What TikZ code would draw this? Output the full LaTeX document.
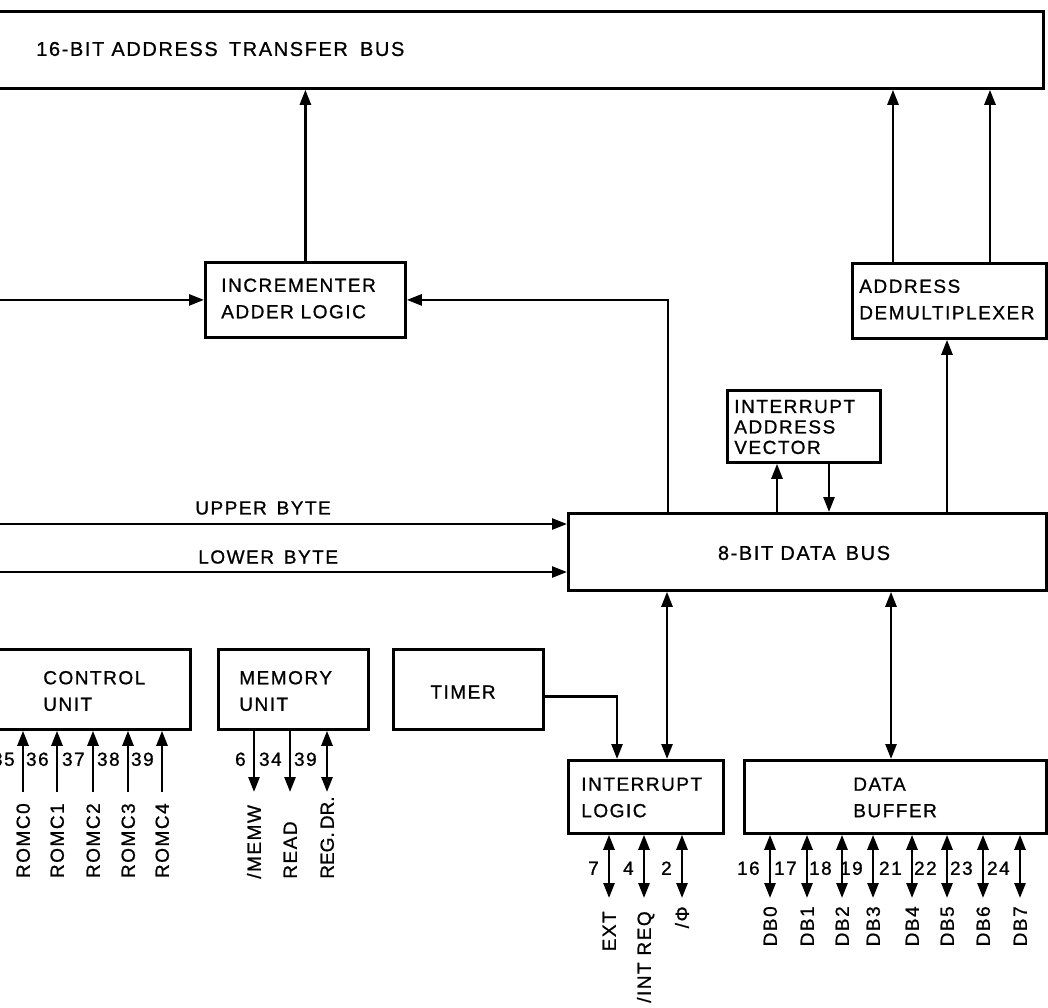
\documentclass[tikz,border=0pt]{standalone}
\usepackage{fontspec}
\setmainfont{Liberation Sans}[LetterSpace=8,FakeBold=0.9]
\usetikzlibrary{arrows.meta}
\begin{document}
\begin{tikzpicture}[x=1pt,y=-1pt,
  line width=2.6pt,
  >={Triangle[length=15pt,width=11pt]},
  box/.style={draw,line width=2.8pt,inner sep=0pt,anchor=north west},
  txt/.style={inner sep=0pt,align=left,font=\fontsize{19}{26.5}\selectfont},
  pin/.style={inner sep=0pt,font=\fontsize{19}{22}\selectfont,text height=13.6pt,text depth=0pt},
]
\useasboundingbox (0,0) rectangle (1048,1007);

% boxes
\node[box,minimum width=1047,minimum height=77] (abus) at (-5,10) {};
\node[txt,anchor=west,font=\fontsize{20}{26.5}\selectfont] (abust) at (35,49) {16-BIT ADDRESS\hspace{4pt} TRANSFER\hspace{5pt} BUS};

\node[box,minimum width=200,minimum height=75] (inc) at (204,261) {};
\node[txt,anchor=west] (inct) at (220,298.5) {INCREMENTER\\ADDER LOGIC};

\node[box,minimum width=194,minimum height=75] (dmx) at (851,262) {};
\node[txt,anchor=west] (dmxt) at (858,299.5) {ADDRESS\\DEMULTIPLEXER};

\node[box,minimum width=153,minimum height=72] (iav) at (726,389) {};
\node[txt,anchor=west,font=\fontsize{19}{20.5}\selectfont] (iavt) at (733,427) {INTERRUPT\\ADDRESS\\VECTOR};

\node[box,minimum width=478,minimum height=77] (dbus) at (567,512) {};
\node[txt,font=\fontsize{20}{26.5}\selectfont] (dbust) at (804,553) {8-BIT DATA\hspace{3pt} BUS};

\node[box,minimum width=194,minimum height=80] (ctrl) at (-5,648) {};
\node[txt,anchor=west] (ctrlt) at (42,691) {CONTROL\\UNIT};

\node[box,minimum width=150,minimum height=80] (mem) at (217,648) {};
\node[txt,anchor=west] (memt) at (238,691) {MEMORY\\UNIT};

\node[box,minimum width=150,minimum height=80] (tim) at (392,648) {};
\node[txt] (timt) at (463,692) {TIMER};

\node[box,minimum width=155,minimum height=73] (il) at (567,759) {};
\node[txt,anchor=west] (ilt) at (580,797.5) {INTERRUPT\\LOGIC};

\node[box,minimum width=302,minimum height=73] (dbuf) at (743,759) {};
\node[txt,anchor=west] (dbuft) at (852,797.5) {DATA\\BUFFER};

% helper coordinates
\coordinate (l0) at (0,0);
\coordinate (xa) at (668,0);
\coordinate (xd1) at (893,0);
\coordinate (xd2) at (990,0);
\coordinate (xdm) at (947,0);
\coordinate (xv1) at (777,0);
\coordinate (xv2) at (829,0);
\coordinate (xil) at (667,0);
\coordinate (xdb) at (891,0);
\coordinate (xt) at (617,0);
\coordinate (ub) at (0,524);
\coordinate (lb) at (0,572);

% connectors
\draw[->] (inc.north) -- (inc.north |- abus.south);
\draw[->] (xd1 |- dmx.north) -- (xd1 |- abus.south);
\draw[->] (xd2 |- dmx.north) -- (xd2 |- abus.south);
\draw[->] (l0 |- inc.west) -- (inc.west);
\draw[->] (xa |- dbus.north) -- (xa |- inc.east) -- (inc.east);
\draw[->] (xdm |- dbus.north) -- (xdm |- dmx.south);
\draw[->] (xv1 |- dbus.north) -- (xv1 |- iav.south);
\draw[->] (xv2 |- iav.south) -- (xv2 |- dbus.north);
\draw[->] (ub) -- (ub -| dbus.west);
\draw[->] (lb) -- (lb -| dbus.west);
\node[txt,anchor=west] (ubt) at (194,508) {UPPER\hspace{3pt} BYTE};
\node[txt,anchor=west] (lbt) at (197,557) {LOWER\hspace{3pt} BYTE};
\draw[<->] (xil |- dbus.south) -- (xil |- il.north);
\draw[<->] (xdb |- dbus.south) -- (xdb |- dbuf.north);
\draw[->] ([yshift=-7pt]tim.east) -| (xt |- il.north);

% control unit pins
\foreach \x/\n/\l [count=\i] in {23/35/ROMC0,57/36/ROMC1,93/37/ROMC2,128/38/ROMC3,162/39/ROMC4}{
  \coordinate (cp\i) at (\x,792);
  \draw[->] (cp\i) -- (cp\i |- ctrl.south);
  \node[pin,anchor=east] (cn\i) at (\x-7,759) {\n};
  \node[pin,rotate=90,anchor=east] (cl\i) at (\x,802) {\l};
}

% memory unit pins
\coordinate (mp1) at (254,792);
\coordinate (mp2) at (290,792);
\coordinate (mp3) at (327,792);
\draw[->] (mp1 |- mem.south) -- (mp1);
\draw[->] (mp2 |- mem.south) -- (mp2);
\draw[<->] (mp3 |- mem.south) -- (mp3);
\node[pin,anchor=east] (mn1) at (247,759) {6};
\node[pin,anchor=east] (mn2) at (283,759) {34};
\node[pin,anchor=east] (mn3) at (318,759) {39};
\node[pin,rotate=90,anchor=west] (ml1) at (254,880) {/MEMW};
\node[pin,rotate=90,anchor=west] (ml2) at (290,880) {READ};
\node[pin,rotate=90,anchor=west] (ml3) at (327,880) {\addfontfeature{LetterSpace=0}REG.\,DR.};

% interrupt logic pins
\foreach \x/\n/\l/\t [count=\i] in {609/7/EXT/910,644/4/{/INT REQ}/910,682/2/{/Φ}/905}{
  \coordinate (ip\i) at (\x,898);
  \draw[<->] (ip\i |- il.south) -- (ip\i);
  \node[pin,anchor=east] (in\i) at (\x-9,868) {\n};
  \node[pin,rotate=90,anchor=east] (il\i) at (\x,\t) {\l};
}

% data buffer pins
\foreach \x/\n [count=\i from 0] in {770/16,807/17,842/18,873/19,912/21,947/22,983/23,1020/24}{
  \coordinate (dp\i) at (\x,898);
  \draw[<->] (dp\i |- dbuf.south) -- (dp\i);
  \node[pin,anchor=east] (dn\i) at (\x-9,868) {\n};
  \node[pin,rotate=90,anchor=east] (dl\i) at (\x,905) {DB\i};
}
\end{tikzpicture}
\end{document}
